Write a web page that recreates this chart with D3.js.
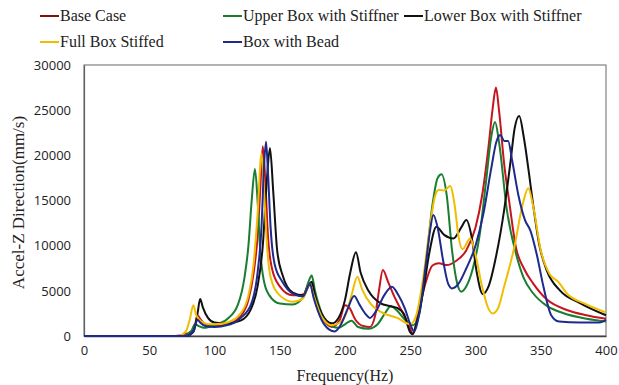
<!DOCTYPE html>
<html>
<head>
<meta charset="utf-8">
<script src="https://cdn.jsdelivr.net/npm/d3@7"></script>
<style>
  body { margin: 0; background: #fff; }
  svg { display: block; }
</style>
</head>
<body>
<svg id="chart" width="619" height="385"></svg>
<script>
// frequency (Hz) / acceleration (mm/s) pairs
const baseFreq = [0, 70, 80, 85, 87, 89, 92, 100, 110, 120, 126, 130, 133, 135, 137, 139, 141, 144, 150, 160, 168, 173, 176, 182, 190, 196, 200, 203, 208, 214, 219, 223, 226, 229, 233, 238, 243, 248, 252, 256, 262, 267, 272, 278, 285, 293, 300, 305, 310, 313, 315.7, 318, 322, 326, 331, 337, 344, 355, 370, 385, 400];
const baseVal = [0, 0, 300, 1200, 2300, 1900, 1400, 1100, 1300, 2200, 4000, 7000, 11000, 16000, 21000, 17000, 11000, 7500, 5500, 4500, 4600, 5900, 4500, 2200, 1000, 1800, 3400, 3200, 1800, 1100, 1000, 2200, 5000, 7300, 6000, 4300, 2900, 1500, 300, 2500, 6000, 7800, 8050, 7850, 8300, 9500, 12000, 15500, 21000, 25000, 27500, 25000, 19000, 14700, 9800, 7500, 5860, 4000, 2880, 2300, 1900];

const upperFreq = [0, 75, 82, 85, 88, 92, 100, 110, 118, 123, 126, 128.5, 131, 133, 135, 138, 142, 150, 160, 168, 172, 174.5, 177, 182, 190, 195, 200, 205, 210, 218, 225, 231, 235, 240, 246, 252, 257, 262, 267, 271, 274, 278, 282, 286, 289, 293, 298, 303, 308, 312, 315, 318, 324, 331.6, 337, 344, 355, 367, 385, 400];
const upperVal = [0, 0, 500, 1300, 1100, 900, 1200, 1900, 3500, 6500, 10000, 15000, 18500, 15000, 9500, 6000, 4500, 3600, 3500, 4300, 6000, 6700, 5000, 2600, 1100, 900, 1300, 1700, 1000, 800, 1300, 2600, 3300, 2800, 1800, 1200, 2500, 8000, 14500, 17500, 17900, 15500, 9500, 5800, 4900, 5500, 7500, 11000, 17000, 22000, 23700, 21500, 14000, 8800, 6400, 4760, 3300, 2540, 1900, 1600];

const lowerFreq = [0, 78, 84, 87, 89, 91, 95, 100, 110, 120, 128, 133, 137, 140, 142.5, 145, 148, 152, 160, 168, 172, 174.5, 177, 182, 190, 195, 200, 204, 208.4, 212, 218, 227, 235, 240, 245, 250, 252, 255, 260, 265, 270, 276, 283, 289, 293, 297, 301, 305.5, 310, 316, 322, 327, 330, 333.5, 337, 341, 344, 349, 354.5, 365, 380, 400];
const lowerVal = [0, 0, 500, 2500, 4100, 3200, 2000, 1500, 1400, 1700, 3000, 5500, 10000, 17000, 20800, 16000, 9500, 6800, 4800, 4500, 5500, 6000, 4500, 2500, 1400, 2000, 4000, 7000, 9270, 7000, 5000, 3650, 3300, 3100, 2500, 400, 200, 1500, 5000, 9500, 12100, 11200, 10800, 12000, 12840, 11000, 7000, 4650, 5500, 9000, 14000, 19500, 23000, 24350, 22000, 18000, 14700, 10000, 7300, 5000, 3650, 2300];

const fullFreq = [0, 72, 78, 81, 83.8, 86, 90, 95, 100, 110, 120, 126, 130, 133, 136, 138, 140, 143, 150, 160, 168, 173, 176, 182, 190, 196, 201, 205, 209.5, 213, 220, 227, 240, 250, 255, 260, 265, 269, 272, 276, 280.5, 284, 287, 290, 296, 300, 305, 310, 313, 317, 322, 330, 336, 340.5, 344, 350, 357, 363.5, 370, 385, 400];
const fullVal = [0, 0, 500, 1800, 3400, 2300, 1600, 1300, 1300, 1500, 2500, 4500, 8000, 13500, 20200, 16000, 10500, 6500, 4500, 3800, 4200, 5800, 4500, 2200, 1200, 1500, 2500, 4500, 6570, 5200, 3500, 2700, 2000, 1300, 2500, 6500, 12000, 15500, 16200, 16100, 16600, 14500, 11000, 9600, 10800, 9000, 5500, 3000, 2500, 3000, 5500, 10000, 14500, 16350, 14500, 9500, 6800, 6000, 4700, 3500, 2600];

const beadFreq = [0, 78, 84, 87, 89, 93, 100, 110, 120, 128, 133, 136, 138, 139.5, 141, 143, 146, 152, 160, 168, 173, 176, 182, 188, 192, 197, 202, 207, 211, 216, 219, 224, 230, 236, 241, 246, 250, 253, 257, 262, 265, 267.7, 271, 275, 279, 282, 287, 293, 300, 306, 312, 316, 319, 322, 325, 328, 333, 338, 342, 347, 352, 358, 364, 380, 395, 400];
const beadVal = [0, 0, 600, 1800, 1500, 1100, 1000, 1200, 2000, 3500, 7000, 12000, 19000, 21500, 18000, 12000, 8000, 6000, 4700, 4400, 5800, 4200, 1800, 700, 500, 1300, 3000, 4430, 3500, 2400, 2000, 2800, 4500, 5460, 4500, 3000, 1300, 500, 2500, 8000, 11500, 13400, 12000, 8500, 5800, 5270, 5800, 7500, 10000, 13500, 18500, 21500, 22250, 21600, 21600, 19500, 15500, 12800, 11700, 9000, 5500, 2300, 1600, 1500, 1500, 1800];

const seriesNames = ["Base Case", "Upper Box with Stiffner", "Lower Box with Stiffner", "Full Box Stiffed", "Box with Bead"];
const seriesColors = ["#c8141e", "#1a7d30", "#111111", "#f0be00", "#1e2a8c"];
const xTicks = [0, 50, 100, 150, 200, 250, 300, 350, 400];
const yTicks = [0, 5000, 10000, 15000, 20000, 25000, 30000];

const series = [
  { freq: baseFreq, val: baseVal },
  { freq: upperFreq, val: upperVal },
  { freq: lowerFreq, val: lowerVal },
  { freq: fullFreq, val: fullVal },
  { freq: beadFreq, val: beadVal }
].map((s, i) => ({
  name: seriesNames[i],
  color: seriesColors[i],
  points: s.freq.map((f, j) => ({ f: f, v: s.val[j] }))
}));

const svg = d3.select("#chart");
const margin = { top: 65, right: 13, bottom: 49, left: 84 };
const width = 619 - margin.left - margin.right;
const height = 385 - margin.top - margin.bottom;

const x = d3.scaleLinear().domain([0, 400]).range([0, width]);
const y = d3.scaleLinear().domain([0, 30000]).range([height, 0]);

const g = svg.append("g").attr("transform", `translate(${margin.left},${margin.top})`);

// plot frame
g.append("rect")
  .attr("x", 0).attr("y", 0)
  .attr("width", width).attr("height", height)
  .attr("fill", "none")
  .attr("stroke", "#808080")
  .attr("stroke-width", 1.2);

const tickFont = "'Open Sans', 'DejaVu Sans', sans-serif";
const serifFont = "'Liberation Serif', 'Times New Roman', serif";

const xAxis = g.append("g")
  .attr("transform", `translate(0,${height})`)
  .call(d3.axisBottom(x).tickValues(xTicks).tickFormat(d3.format("d")).tickSize(0).tickPadding(10));
xAxis.select(".domain").attr("stroke", "#404040").attr("stroke-width", 1.5);
xAxis.selectAll("text").attr("font-family", tickFont).attr("font-size", 13).attr("fill", "#222");

const yAxis = g.append("g")
  .call(d3.axisLeft(y).tickValues(yTicks).tickFormat(d3.format("d")).tickSize(0).tickPadding(13));
yAxis.select(".domain").attr("stroke", "#606060").attr("stroke-width", 1.2);
yAxis.selectAll("text").attr("font-family", tickFont).attr("font-size", 13).attr("fill", "#222");

// curves
const line = d3.line()
  .x(d => x(d.f))
  .y(d => y(d.v))
  .curve(d3.curveMonotoneX);

g.selectAll(".series")
  .data(series)
  .enter().append("path")
  .attr("class", "series")
  .attr("d", d => line(d.points))
  .attr("fill", "none")
  .attr("stroke", d => d.color)
  .attr("stroke-width", 2)
  .attr("stroke-linejoin", "round");

// axis titles
svg.append("text")
  .attr("x", margin.left + width / 2)
  .attr("y", 381)
  .attr("text-anchor", "middle")
  .attr("font-family", serifFont)
  .attr("font-size", 16)
  .attr("fill", "#222")
  .text("Frequency(Hz)");

svg.append("text")
  .attr("transform", `translate(24,${margin.top + height / 2 + 2}) rotate(-90)`)
  .attr("text-anchor", "middle")
  .attr("font-family", serifFont)
  .attr("font-size", 17)
  .attr("fill", "#222")
  .text("Accel-Z Direction(mm/s)");

// legend
const legendPos = [[40, 21], [223, 21], [404, 21], [40, 47], [223, 47]];
const legend = svg.selectAll(".legend")
  .data(series)
  .enter().append("g")
  .attr("class", "legend")
  .attr("transform", (d, i) => `translate(${legendPos[i][0]},${legendPos[i][1]})`);

legend.append("line")
  .attr("x1", 0).attr("x2", 19)
  .attr("y1", -5).attr("y2", -5)
  .attr("stroke", (d, i) => i === 0 ? "#7a1414" : d.color)
  .attr("stroke-width", 2);

legend.append("text")
  .attr("x", 20)
  .attr("y", 0)
  .attr("font-family", serifFont)
  .attr("font-size", 16)
  .attr("fill", "#222")
  .text(d => d.name);
</script>
</body>
</html>
